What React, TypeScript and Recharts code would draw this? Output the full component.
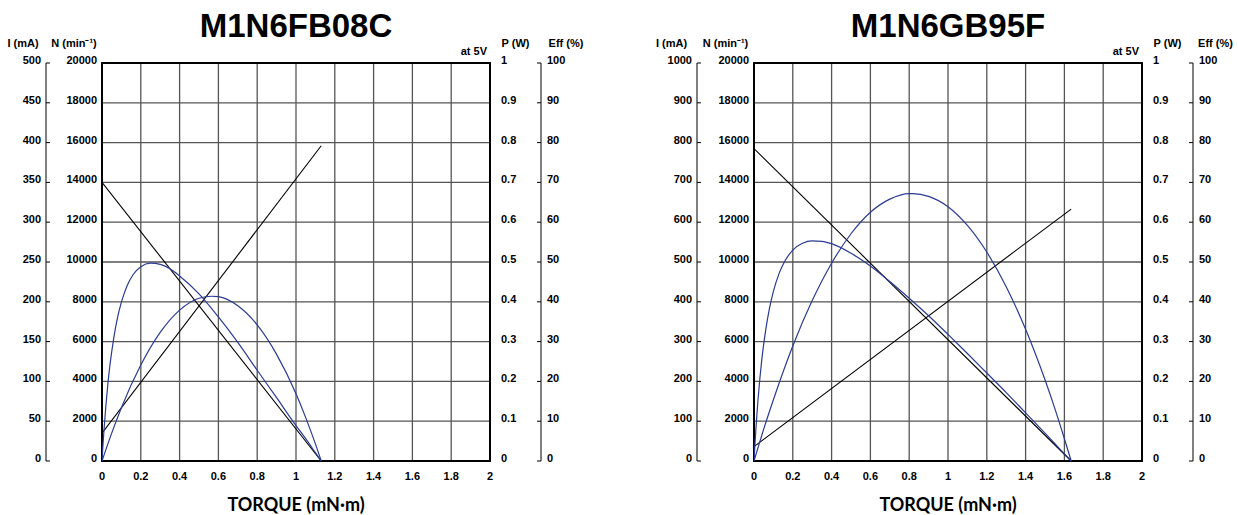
import React from "react";
import { LineChart, Line, XAxis, YAxis, CartesianGrid, ReferenceArea, Label } from "recharts";

// shared tick sets
const torqueTicks = [0, 0.2, 0.4, 0.6, 0.8, 1, 1.2, 1.4, 1.6, 1.8, 2];
const speedTicks = [0, 2000, 4000, 6000, 8000, 10000, 12000, 14000, 16000, 18000, 20000];
const powerTicks = [0, 0.1, 0.2, 0.3, 0.4, 0.5, 0.6, 0.7, 0.8, 0.9, 1];
const effTicks = [0, 10, 20, 30, 40, 50, 60, 70, 80, 90, 100];
const currentTicksFB = [0, 50, 100, 150, 200, 250, 300, 350, 400, 450, 500];
const currentTicksGB = [0, 100, 200, 300, 400, 500, 600, 700, 800, 900, 1000];

// M1N6FB08C
const speedFB = [
  { t: 0, v: 14000 },
  { t: 1.13, v: 0 },
];
const currentFB = [
  { t: 0, v: 35 },
  { t: 1.13, v: 396 },
];
const powerFB = [
  { t: 0, v: 0 }, { t: 0.05, v: 0.07 }, { t: 0.1, v: 0.134 }, { t: 0.2, v: 0.241 },
  { t: 0.3, v: 0.323 }, { t: 0.4, v: 0.379 }, { t: 0.5, v: 0.409 }, { t: 0.565, v: 0.414 },
  { t: 0.6, v: 0.413 }, { t: 0.7, v: 0.39 }, { t: 0.8, v: 0.342 }, { t: 0.9, v: 0.268 },
  { t: 1, v: 0.169 }, { t: 1.05, v: 0.109 }, { t: 1.1, v: 0.043 }, { t: 1.13, v: 0 },
];
const effFB = [
  { t: 0, v: 0 }, { t: 0.005, v: 4 }, { t: 0.01, v: 7.6 }, { t: 0.02, v: 13.9 },
  { t: 0.03, v: 19.2 }, { t: 0.04, v: 23.7 }, { t: 0.06, v: 30.7 }, { t: 0.08, v: 36 },
  { t: 0.1, v: 39.9 }, { t: 0.13, v: 44.1 }, { t: 0.16, v: 46.8 }, { t: 0.2, v: 48.8 },
  { t: 0.25, v: 49.7 }, { t: 0.3, v: 49.4 }, { t: 0.35, v: 48.3 }, { t: 0.4, v: 46.5 },
  { t: 0.5, v: 42 }, { t: 0.6, v: 36.2 }, { t: 0.7, v: 29.8 }, { t: 0.8, v: 22.8 },
  { t: 0.9, v: 15.9 }, { t: 1, v: 8.9 }, { t: 1.05, v: 5.6 }, { t: 1.1, v: 2.1 },
  { t: 1.13, v: 0 },
];

// M1N6GB95F
const speedGB = [
  { t: 0, v: 15700 },
  { t: 1.635, v: 0 },
];
const currentGB = [
  { t: 0, v: 36 },
  { t: 1.635, v: 633 },
];
const powerGB = [
  { t: 0, v: 0 }, { t: 0.05, v: 0.08 }, { t: 0.1, v: 0.154 }, { t: 0.2, v: 0.289 },
  { t: 0.3, v: 0.403 }, { t: 0.4, v: 0.497 }, { t: 0.5, v: 0.571 }, { t: 0.6, v: 0.625 },
  { t: 0.7, v: 0.658 }, { t: 0.8, v: 0.672 }, { t: 0.82, v: 0.672 }, { t: 0.9, v: 0.665 },
  { t: 1, v: 0.639 }, { t: 1.1, v: 0.592 }, { t: 1.2, v: 0.525 }, { t: 1.3, v: 0.438 },
  { t: 1.4, v: 0.331 }, { t: 1.5, v: 0.204 }, { t: 1.55, v: 0.133 }, { t: 1.6, v: 0.056 },
  { t: 1.635, v: 0 },
];
const effGB = [
  { t: 0, v: 0 }, { t: 0.005, v: 4.3 }, { t: 0.01, v: 8.2 }, { t: 0.02, v: 15 },
  { t: 0.03, v: 20.6 }, { t: 0.04, v: 25.4 }, { t: 0.06, v: 32.8 }, { t: 0.08, v: 38.4 },
  { t: 0.1, v: 42.6 }, { t: 0.13, v: 47.2 }, { t: 0.16, v: 50.3 }, { t: 0.2, v: 53 },
  { t: 0.25, v: 54.7 }, { t: 0.3, v: 55.3 }, { t: 0.35, v: 55.2 }, { t: 0.4, v: 54.6 },
  { t: 0.5, v: 52.2 }, { t: 0.6, v: 49 }, { t: 0.7, v: 45.1 }, { t: 0.8, v: 40.9 },
  { t: 0.9, v: 36.5 }, { t: 1, v: 31.8 }, { t: 1.1, v: 27 }, { t: 1.2, v: 22.1 },
  { t: 1.3, v: 17.2 }, { t: 1.4, v: 12.1 }, { t: 1.5, v: 7 }, { t: 1.55, v: 4.4 },
  { t: 1.6, v: 1.8 }, { t: 1.635, v: 0 },
];

const FONT = "'Liberation Sans', Arial, sans-serif";
const BLUE = "#2c3b95";
const tickStyle = { fontSize: 11, fontWeight: 700, fontFamily: FONT, fill: "#000" };
const headStyle = { fontSize: 11, fontWeight: 700, fontFamily: FONT, fill: "#000" };

interface MotorProps {
  title: string;
  left: number;
  width: number;
  iWidth: number;
  nWidth: number;
  pWidth: number;
  effWidth: number;
  marginRight: number;
  iMax: number;
  iTicks: number[];
  speed: { t: number; v: number }[];
  current: { t: number; v: number }[];
  power: { t: number; v: number }[];
  eff: { t: number; v: number }[];
}

function MotorChart(p: MotorProps) {
  const plotLeft = p.iWidth + p.nWidth;
  const plotRight = p.width - p.marginRight - p.pWidth - p.effWidth;
  const plotMid = (plotLeft + plotRight) / 2;
  return (
    <div style={{ position: "absolute", left: p.left, top: 0, width: p.width, height: 515 }}>
      <div
        style={{
          position: "absolute",
          left: plotMid - 150,
          width: 300,
          top: 8,
          textAlign: "center",
          fontFamily: FONT,
          fontWeight: 700,
          fontSize: 33,
          lineHeight: "36px",
        }}
      >
        {p.title}
      </div>
      <div
        style={{
          position: "absolute",
          left: plotRight - 103,
          width: 100,
          top: 45,
          textAlign: "right",
          fontFamily: FONT,
          fontWeight: 700,
          fontSize: 11,
          lineHeight: "13px",
        }}
      >
        at 5V
      </div>
      <LineChart width={p.width} height={515} margin={{ top: 63, right: p.marginRight, bottom: 24, left: 0 }}>
        <CartesianGrid xAxisId="x" yAxisId="a_speed" stroke="#555" strokeWidth={1.3} />
        <XAxis
          xAxisId="x"
          type="number"
          dataKey="t"
          domain={[0, 2]}
          ticks={torqueTicks}
          allowDataOverflow
          axisLine={false}
          tickLine={false}
          tickSize={0}
          tickMargin={11}
          height={30}
          tick={tickStyle}
          interval={0}
        >
          <Label
            value="TORQUE (mN·m)"
            position="bottom"
            offset={7}
            style={{ fontSize: 18, fontWeight: 700, fontFamily: "Lato, sans-serif", fill: "#000" }}
          />
        </XAxis>
        <YAxis
          yAxisId="b_current"
          orientation="left"
          width={p.iWidth}
          domain={[0, p.iMax]}
          ticks={p.iTicks}
          axisLine={{ stroke: "#000", strokeWidth: 1 }}
          tickLine={{ stroke: "#000", strokeWidth: 1 }}
          tickSize={-4}
          tickMargin={9}
          tick={{ ...tickStyle, dy: -3 }}
          interval={0}
        >
          <Label value="I (mA)" position="top" offset={16} style={headStyle} />
        </YAxis>
        <YAxis
          yAxisId="a_speed"
          orientation="left"
          width={p.nWidth}
          domain={[0, 20000]}
          ticks={speedTicks}
          axisLine={false}
          tickLine={false}
          tickSize={0}
          tickMargin={5}
          tick={{ ...tickStyle, dy: -3 }}
          interval={0}
        >
          <Label value="N (min⁻¹)" position="top" offset={16} style={headStyle} />
        </YAxis>
        <YAxis
          yAxisId="d_eff"
          orientation="right"
          width={p.effWidth}
          domain={[0, 100]}
          ticks={effTicks}
          axisLine={{ stroke: "#000", strokeWidth: 1 }}
          tickLine={{ stroke: "#000", strokeWidth: 1 }}
          tickSize={-4}
          tickMargin={10}
          tick={{ ...tickStyle, dy: -3 }}
          interval={0}
        >
          <Label value="Eff (%)" position="top" offset={16} style={headStyle} />
        </YAxis>
        <YAxis
          yAxisId="c_power"
          orientation="right"
          width={p.pWidth}
          domain={[0, 1]}
          ticks={powerTicks}
          axisLine={false}
          tickLine={false}
          tickSize={0}
          tickMargin={11}
          tick={{ ...tickStyle, dy: -3 }}
          interval={0}
        >
          <Label value="P (W)" position="top" offset={16} style={headStyle} />
        </YAxis>
        <ReferenceArea
          xAxisId="x"
          yAxisId="a_speed"
          x1={0}
          x2={2}
          y1={0}
          y2={20000}
          fill="none"
          stroke="#000"
          strokeWidth={2}
          ifOverflow="visible"
        />
        <Line xAxisId="x" yAxisId="a_speed" data={p.speed} dataKey="v" type="linear" stroke="#000" strokeWidth={1.1} dot={false} isAnimationActive={false} />
        <Line xAxisId="x" yAxisId="b_current" data={p.current} dataKey="v" type="linear" stroke="#000" strokeWidth={1.1} dot={false} isAnimationActive={false} />
        <Line xAxisId="x" yAxisId="c_power" data={p.power} dataKey="v" type="monotone" stroke={BLUE} strokeWidth={1.2} dot={false} isAnimationActive={false} />
        <Line xAxisId="x" yAxisId="d_eff" data={p.eff} dataKey="v" type="monotone" stroke={BLUE} strokeWidth={1.2} dot={false} isAnimationActive={false} />
      </LineChart>
    </div>
  );
}

export default function App() {
  return (
    <div style={{ position: "absolute", left: 0, top: 0, width: 1238, height: 515, background: "#fff" }}>
      <MotorChart
        title="M1N6FB08C"
        left={0}
        width={620}
        iWidth={46}
        nWidth={56}
        pWidth={51}
        effWidth={50}
        marginRight={29}
        iMax={500}
        iTicks={currentTicksFB}
        speed={speedFB}
        current={currentFB}
        power={powerFB}
        eff={effFB}
      />
      <MotorChart
        title="M1N6GB95F"
        left={646}
        width={592}
        iWidth={51}
        nWidth={57}
        pWidth={51}
        effWidth={45}
        marginRight={0}
        iMax={1000}
        iTicks={currentTicksGB}
        speed={speedGB}
        current={currentGB}
        power={powerGB}
        eff={effGB}
      />
    </div>
  );
}
